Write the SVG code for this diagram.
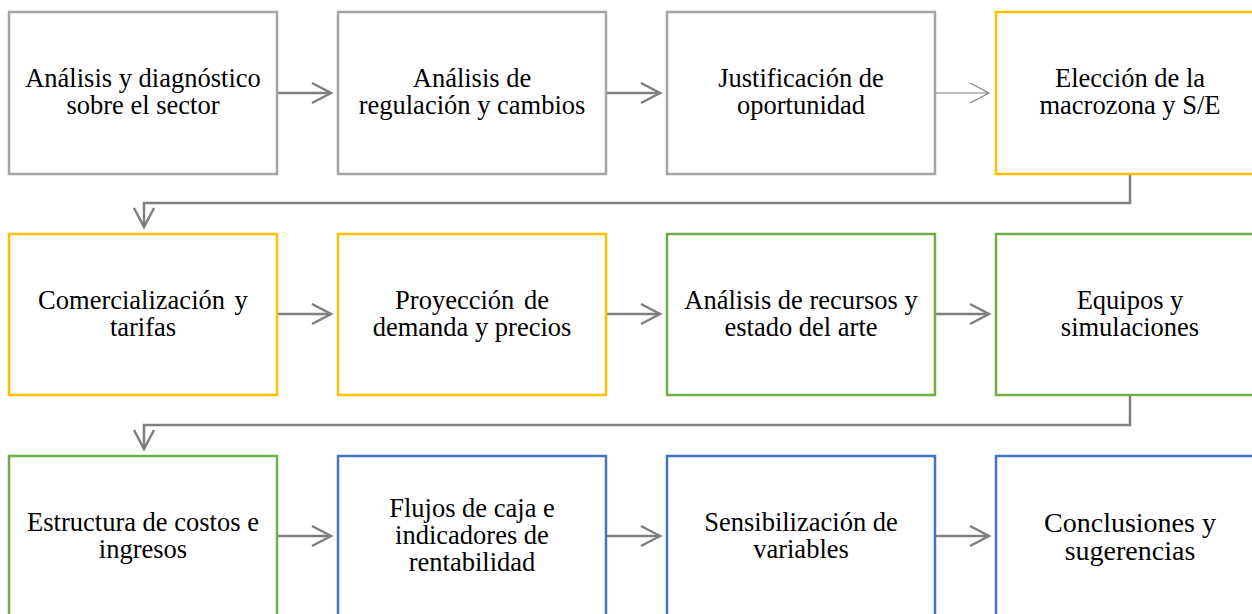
<svg xmlns="http://www.w3.org/2000/svg" width="1252" height="614" viewBox="0 0 1252 614">
<style>
.box{fill:#fff;stroke-width:2.5}
.g{stroke:#A5A5A5}.y{stroke:#FFC000}.gr{stroke:#70AD47}.b{stroke:#4472C4}
text{font-family:"Liberation Serif","Times New Roman",serif;font-size:26.5px;fill:#000;text-anchor:middle}
.big{font-size:28px}
.c{fill:none;stroke:#7F7F7F;stroke-width:2.5}
.thin{stroke-width:1.2}
</style>
<defs>
<marker id="ah" markerUnits="userSpaceOnUse" markerWidth="24" markerHeight="24" refX="20" refY="11" orient="auto" viewBox="0 0 24 22">
<path d="M1,1 L20,11 L1,21" fill="none" stroke="#7F7F7F" stroke-width="2.5"/>
</marker>
<marker id="aht" markerUnits="userSpaceOnUse" markerWidth="24" markerHeight="24" refX="20" refY="11" orient="auto" viewBox="0 0 24 22">
<path d="M1,1 L20,11 L1,21" fill="none" stroke="#7F7F7F" stroke-width="1.2"/>
</marker>
</defs>
<g id="connectors">
<path class="c" d="M277,93 L331,93" marker-end="url(#ah)"/>
<path class="c" d="M606,93 L660,93" marker-end="url(#ah)"/>
<path class="c thin" d="M935,93 L989,93" marker-end="url(#aht)"/>
<path class="c" d="M1130,174 L1130,203 L144,203 L144,227" marker-end="url(#ah)"/>
<path class="c" d="M277,314 L331,314" marker-end="url(#ah)"/>
<path class="c" d="M606,314 L660,314" marker-end="url(#ah)"/>
<path class="c" d="M935,314 L989,314" marker-end="url(#ah)"/>
<path class="c" d="M1130,395 L1130,425 L144,425 L144,449" marker-end="url(#ah)"/>
<path class="c" d="M277,536 L331,536" marker-end="url(#ah)"/>
<path class="c" d="M606,536 L660,536" marker-end="url(#ah)"/>
<path class="c" d="M935,536 L989,536" marker-end="url(#ah)"/>
</g>
<g id="n1"><rect class="box g" x="9" y="12" width="268" height="162"/><text x="143" y="87">Análisis y diagnóstico</text><text x="143" y="114">sobre el sector</text></g>
<g id="n2"><rect class="box g" x="338" y="12" width="268" height="162"/><text x="472" y="87">Análisis de</text><text x="472" y="114">regulación y cambios</text></g>
<g id="n3"><rect class="box g" x="667" y="12" width="268" height="162"/><text x="801" y="87">Justificación de</text><text x="801" y="114">oportunidad</text></g>
<g id="n4"><rect class="box y" x="996" y="12" width="268" height="162"/><text x="1130" y="87">Elección de la</text><text x="1130" y="114">macrozona y S/E</text></g>
<g id="n5"><rect class="box y" x="9" y="234" width="268" height="161"/><text x="143" y="309" word-spacing="3">Comercialización y</text><text x="143" y="336">tarifas</text></g>
<g id="n6"><rect class="box y" x="338" y="234" width="268" height="161"/><text x="472" y="309" word-spacing="3">Proyección de</text><text x="472" y="336">demanda y precios</text></g>
<g id="n7"><rect class="box gr" x="667" y="234" width="268" height="161"/><text x="801" y="309">Análisis de recursos y</text><text x="801" y="336">estado del arte</text></g>
<g id="n8"><rect class="box gr" x="996" y="234" width="268" height="161"/><text x="1130" y="309">Equipos y</text><text x="1130" y="336">simulaciones</text></g>
<g id="n9"><rect class="box gr" x="9" y="456" width="268" height="170"/><text x="143" y="531">Estructura de costos e</text><text x="143" y="558">ingresos</text></g>
<g id="n10"><rect class="box b" x="338" y="456" width="268" height="170"/><text x="472" y="517">Flujos de caja e</text><text x="472" y="544">indicadores de</text><text x="472" y="571">rentabilidad</text></g>
<g id="n11"><rect class="box b" x="667" y="456" width="268" height="170"/><text x="801" y="531">Sensibilización de</text><text x="801" y="558">variables</text></g>
<g id="n12"><rect class="box b" x="996" y="456" width="268" height="170"/><text class="big" x="1130" y="532">Conclusiones y</text><text class="big" x="1130" y="560">sugerencias</text></g>
</svg>
